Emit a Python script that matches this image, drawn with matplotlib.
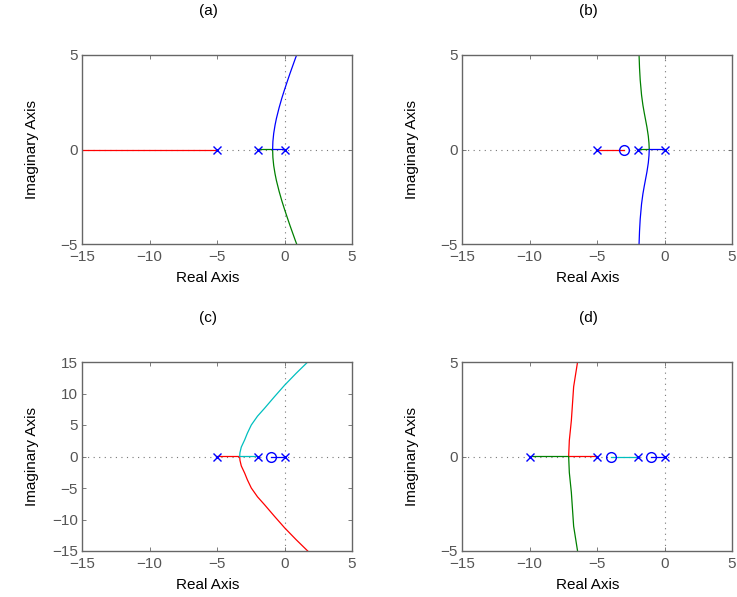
import numpy as np
import matplotlib.pyplot as plt

plt.rcParams['font.family'] = ['Liberation Sans', 'DejaVu Sans']
plt.rcParams['font.size'] = 11

# ─────────────────────────────────────────────
# 1. 데이터
# ─────────────────────────────────────────────
# (a) 극점 0, -2, -5
a_poles = [0, -2, -5]
a_zeros = []
a_red_x = [-5, -15]
a_red_y = [0, 0]
a_upper_x = [0, -0.88, -0.86, -0.8, -0.7, -0.6, -0.4, -0.2, 0.0, 0.2, 0.4, 0.6, 0.8, 0.9]
a_upper_y = [0, 0, 0.42, 0.85, 1.29, 1.64, 2.21, 2.71, 3.16, 3.59, 4.01, 4.41, 4.81, 5.0]
a_lower_x = [-2] + a_upper_x[1:]
a_lower_y = [0] + [-v for v in a_upper_y[1:]]

# (b) 극점 0, -2, -5 / 영점 -3
b_poles = [0, -2, -5]
b_zeros = [-3]
b_red_x = [-5, -3]
b_red_y = [0, 0]
b_upper_x = [-2, -1.13, -1.15, -1.2, -1.3, -1.4, -1.5, -1.6, -1.7, -1.8, -1.85, -1.89]
b_upper_y = [0, 0, 0.33, 0.71, 1.18, 1.56, 1.94, 2.35, 2.88, 3.68, 4.32, 5.1]
b_lower_x = [0] + b_upper_x[1:]
b_lower_y = [0] + [-v for v in b_upper_y[1:]]

# (c) 극점 0, -2, -5 / 영점 -1
c_poles = [0, -2, -5]
c_zeros = [-1]
c_blue_x = [0, -1]
c_blue_y = [0, 0]
c_cyan_x = [-2, -3.32, -3.3, -3.2, -2.95, -2.75, -2.46, -2.0, -1.48, -0.74, 0.0, 0.86, 1.72]
c_cyan_y = [0, 0, 0.6, 1.5, 2.64, 3.7, 5.0, 6.4, 7.65, 9.5, 11.3, 13.2, 15.0]
c_red_x = [-5] + c_cyan_x[1:]
c_red_y = [0] + [-v for v in c_cyan_y[1:]]

# (d) 극점 0, -2, -5, -10 / 영점 -1, -4
d_poles = [0, -2, -5, -10]
d_zeros = [-1, -4]
d_blue_x = [0, -1]
d_blue_y = [0, 0]
d_cyan_x = [-2, -4]
d_cyan_y = [0, 0]
d_red_x = [-5, -7.1, -7.05, -6.9, -6.73, -6.44]
d_red_y = [0, 0, 0.85, 1.9, 3.69, 5.0]
d_green_x = [-10] + d_red_x[1:]
d_green_y = [0] + [-v for v in d_red_y[1:]]

# MATLAB 기본 색
BLUE = (0, 0, 1)
GREEN = (0, 0.5, 0)
RED = (1, 0, 0)
CYAN = (0, 0.75, 0.75)

# ─────────────────────────────────────────────
# 2. 레이아웃
# ─────────────────────────────────────────────
fig = plt.figure(figsize=(7.37, 5.97), dpi=100, facecolor="white")
W, H = 737, 597

def make_ax(left, top, right, bottom):
    return fig.add_axes([left / W, 1 - bottom / H, (right - left) / W, (bottom - top) / H])

ax_a = make_ax(82, 55, 352, 244)
ax_b = make_ax(462, 55, 732, 244)
ax_c = make_ax(82, 362, 352, 551)
ax_d = make_ax(462, 362, 732, 551)

def style(ax, title, ylim, yticks):
    ax.set_xlim(-15, 5)
    ax.set_ylim(*ylim)
    ax.set_xticks([-15, -10, -5, 0, 5])
    ax.set_yticks(yticks)
    ax.axhline(0, color="#777777", lw=0.8, ls=(0, (1, 4)), zorder=1)
    ax.axvline(0, color="#777777", lw=0.8, ls=(0, (1, 4)), zorder=1)
    for sp in ax.spines.values():
        sp.set_color("#666666")
        sp.set_linewidth(1.0)
    ax.tick_params(direction="in", length=3, width=0.6, color="#666666",
                   labelcolor="#555555", labelsize=11, top=True, right=True)
    ax.tick_params(axis="x", pad=4)
    ax.tick_params(axis="y", pad=3)
    ax.set_title(title, x=0.467, y=1.19, va="center", fontsize=11)
    ax.set_xlabel("Real Axis", fontsize=11, va="center")
    ax.xaxis.set_label_coords(0.467, -34 / 189)
    ax.set_ylabel("Imaginary Axis", fontsize=11, va="center")
    ax.yaxis.set_label_coords(-50 / 270, 0.5)

def poles_zeros(ax, poles, zeros):
    ax.plot(poles, np.zeros(len(poles)), "x", color=BLUE, ms=5.5, mew=1.0, zorder=4)
    if zeros:
        ax.plot(zeros, np.zeros(len(zeros)), "o", mfc="none", mec=BLUE, ms=7, mew=1.0, zorder=4)

LW = 0.9

# ── (a) ──
ax_a.plot(a_red_x, a_red_y, color=RED, lw=LW)
ax_a.plot(a_lower_x, a_lower_y, color=GREEN, lw=LW)
ax_a.plot(a_upper_x, a_upper_y, color=BLUE, lw=LW)
poles_zeros(ax_a, a_poles, a_zeros)
style(ax_a, "(a)", (-5, 5), [-5, 0, 5])

# ── (b) ──
ax_b.plot(b_red_x, b_red_y, color=RED, lw=LW)
ax_b.plot(b_upper_x, b_upper_y, color=GREEN, lw=LW)
ax_b.plot(b_lower_x, b_lower_y, color=BLUE, lw=LW)
poles_zeros(ax_b, b_poles, b_zeros)
style(ax_b, "(b)", (-5, 5), [-5, 0, 5])

# ── (c) ──
ax_c.plot(c_blue_x, c_blue_y, color=BLUE, lw=LW)
ax_c.plot(c_red_x, c_red_y, color=RED, lw=LW)
ax_c.plot(c_cyan_x, c_cyan_y, color=CYAN, lw=LW)
poles_zeros(ax_c, c_poles, c_zeros)
style(ax_c, "(c)", (-15, 15), [-15, -10, -5, 0, 5, 10, 15])

# ── (d) ──
ax_d.plot(d_blue_x, d_blue_y, color=BLUE, lw=LW)
ax_d.plot(d_cyan_x, d_cyan_y, color=CYAN, lw=LW)
ax_d.plot(d_red_x, d_red_y, color=RED, lw=LW)
ax_d.plot(d_green_x, d_green_y, color=GREEN, lw=LW)
poles_zeros(ax_d, d_poles, d_zeros)
style(ax_d, "(d)", (-5, 5), [-5, 0, 5])

plt.savefig("out.png", dpi=100, facecolor="white")
